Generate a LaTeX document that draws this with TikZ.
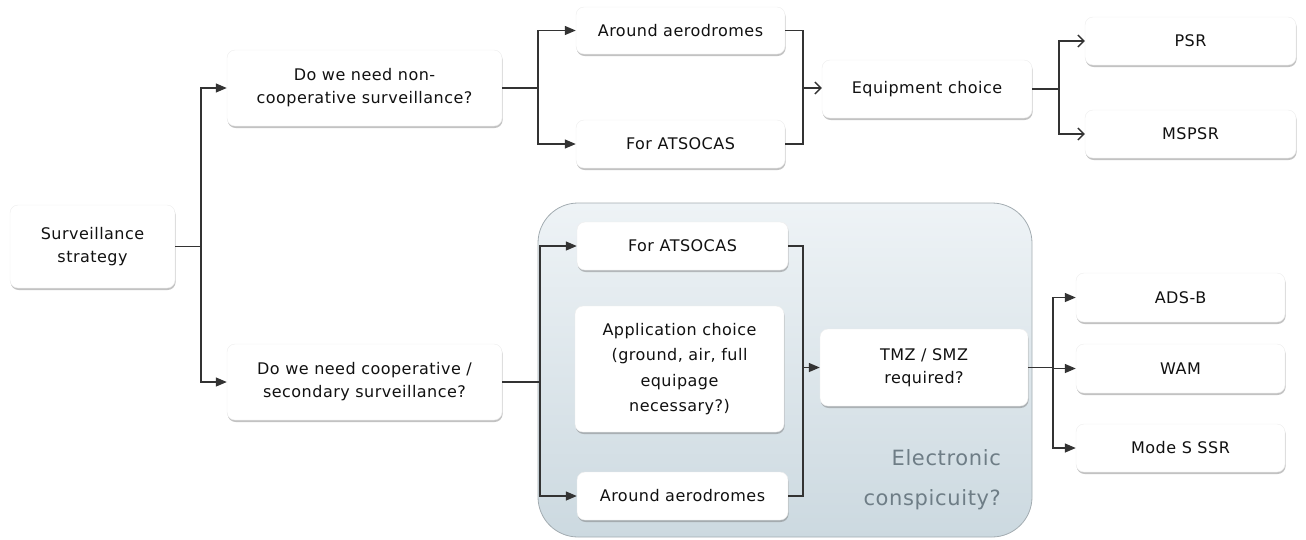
\documentclass[tikz,border=0pt]{standalone}
\usepackage{fontspec}
\setmainfont{DejaVu Sans}[LetterSpace=3]
\usetikzlibrary{arrows.meta,shadows,calc}
\definecolor{ink}{HTML}{111111}
\definecolor{wirecol}{HTML}{333333}
\definecolor{panelTop}{HTML}{EEF3F6}
\definecolor{panelBot}{HTML}{CCD9E0}
\definecolor{panelEdge}{HTML}{A3ACB1}
\definecolor{panelText}{HTML}{6E7D86}
\begin{document}
\begin{tikzpicture}[x=1pt,y=-1pt,
  box/.style={fill=white, draw=black!7, line width=0.4pt, rounded corners=8pt,
    inner sep=0pt, align=center, text=ink, font=\fontsize{16}{23}\selectfont,
    minimum width=210pt, minimum height=48pt,
    drop shadow={shadow xshift=0.6pt, shadow yshift=-2pt, opacity=0.4, fill=black!60}},
  wire/.style={draw=wirecol, line width=1.3pt},
  solidtip/.style={-{Triangle[length=11pt,width=9pt]}},
  opentip/.style={-{Straight Barb[length=6pt,width=12pt,line width=1.3pt]}},
]
\useasboundingbox (0,0) rectangle (1306,539);

% shaded panel grouping the cooperative branch
\path[draw=panelEdge, line width=0.8pt, top color=panelTop, bottom color=panelBot,
      rounded corners=40pt] (538,203) rectangle (1032,537);
\node (ectext) [anchor=east, align=right, text=panelText, inner sep=0pt,
      font=\fontsize{21}{40}\selectfont] at (1001,480) {Electronic\\conspicuity?};

% boxes
\node (strat) [box, minimum width=165pt, minimum height=83pt] at (92.5,246.5) {Surveillance\\strategy};
\node (q1) [box, minimum width=275pt, minimum height=76pt] at (364.5,88) {Do we need non-\\cooperative surveillance?};
\node (q2) [box, minimum width=275pt, minimum height=76pt] at (364.5,382) {Do we need cooperative /\\secondary surveillance?};
\node (aa1) [box, minimum width=209pt, minimum height=47pt] at (680.5,30.5) {Around aerodromes};
\node (fa1) [box, minimum width=209pt] at (680.5,144) {For ATSOCAS};
\node (eq) [box, minimum width=210pt, minimum height=58pt] at (927,89) {Equipment choice};
\node (psr) [box, minimum width=211pt] at (1190.5,41) {PSR};
\node (mspsr) [box, minimum width=211pt] at (1190.5,134) {MSPSR};
\node (fa2) [box, minimum width=211pt] at (682.5,246) {For ATSOCAS};
\node (app) [box, minimum width=209pt, minimum height=126pt, font=\fontsize{16}{25.5}\selectfont] at (679.5,369) {Application choice\\(ground, air, full\\equipage\\necessary?)};
\node (aa2) [box, minimum width=211pt] at (682.5,496) {Around aerodromes};
\node (tmz) [box, minimum width=208pt, minimum height=77pt] at (924,367.5) {TMZ / SMZ\\required?};
\node (adsb) [box, minimum width=209pt, minimum height=49pt] at (1180.5,297.5) {ADS-B};
\node (wam) [box, minimum width=209pt, minimum height=49pt] at (1180.5,368.5) {WAM};
\node (modes) [box, minimum width=209pt] at (1180.5,448) {Mode S SSR};

% junction points
\coordinate (j0) at (201,246.5);
\coordinate (j1) at (538,88);
\coordinate (j2) at (803,88);
\coordinate (j3) at (1059,89);
\coordinate (j4) at (540,382);
\coordinate (j5) at (803,367.5);
\coordinate (j6) at (1053,367.5);

% root split
\draw[wire] (strat.east) -- (j0);
\draw[wire, solidtip] (j0) |- (q1.west);
\draw[wire, solidtip] (j0) |- (q2.west);

% non-cooperative branch
\draw[wire] (q1.east) -- (j1);
\draw[wire, solidtip] (j1) |- (aa1.west);
\draw[wire, solidtip] (j1) |- (fa1.west);
\draw[wire] (aa1.east) -| (j2);
\draw[wire] (fa1.east) -| (j2);
\draw[wire, opentip] (j2) -- (j2 -| eq.west);
\draw[wire] (eq.east) -- (j3);
\draw[wire, opentip] (j3) |- (psr.west);
\draw[wire, opentip] (j3) |- (mspsr.west);

% cooperative branch
\draw[wire] (q2.east) -- (j4);
\draw[wire, solidtip] (j4) |- (fa2.west);
\draw[wire, solidtip] (j4) |- (aa2.west);
\draw[wire] (fa2.east) -| (j5);
\draw[wire] (aa2.east) -| (j5);
\draw[wire, solidtip] (j5) -- (tmz.west);
\draw[wire] (tmz.east) -- (j6);
\draw[wire, solidtip] (j6) |- (adsb.west);
\draw[wire, solidtip] (j6) |- (wam.west);
\draw[wire, solidtip] (j6) |- (modes.west);
\end{tikzpicture}
\end{document}
